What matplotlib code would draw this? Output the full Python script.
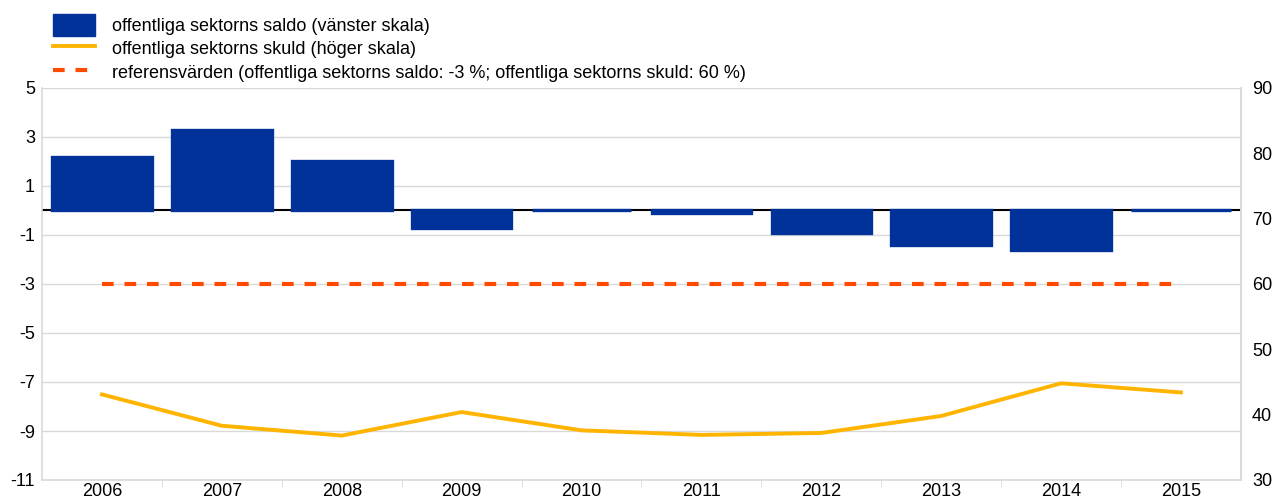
import matplotlib.pyplot as plt
from matplotlib.patches import Patch
from matplotlib.lines import Line2D

plt.rcParams['font.family'] = ['Liberation Sans', 'DejaVu Sans']

# Data
years = ['2006', '2007', '2008', '2009', '2010', '2011', '2012', '2013', '2014', '2015']
saldo = [2.2, 3.3, 2.0, -0.7, 0.0, -0.1, -0.9, -1.4, -1.6, 0.0]      # vänster skala
skuld = [43.1, 38.3, 36.8, 40.4, 37.6, 36.9, 37.2, 39.8, 44.8, 43.4]  # höger skala
ref_saldo = -3
ref_skuld = 60
left_ticks = [-11, -9, -7, -5, -3, -1, 1, 3, 5]
right_ticks = [30, 40, 50, 60, 70, 80, 90]

labels = ['offentliga sektorns saldo (vänster skala)',
          'offentliga sektorns skuld (höger skala)',
          'referensvärden (offentliga sektorns saldo: -3 %; offentliga sektorns skuld: 60 %)']

blue = '#003299'
yellow = '#FFB400'
red = '#FF4B00'
grid_col = '#D9D9D9'

fig = plt.figure(figsize=(12.74, 5), dpi=100)
ax = fig.add_axes([0.033, 0.04, 0.941, 0.784])
x = list(range(len(years)))

ax.axhline(0, color='black', linewidth=1.5, zorder=2)
ax.bar(x, saldo, width=0.83, color=blue, edgecolor=blue, linewidth=2.4, zorder=3)
ax.plot([x[0], x[-1]], [ref_saldo, ref_saldo], color=red, linewidth=3,
        dashes=(2.8, 2.6), zorder=5)

ax.set_xlim(-0.5, len(years) - 0.5)
ax.set_ylim(-11, 5)
ax.set_yticks(left_ticks)
ax.set_yticklabels([str(t) for t in left_ticks])
ax.grid(axis='y', color=grid_col, linewidth=1, zorder=0)
ax.set_xticks(x)
ax.set_xticklabels(years)
ax.set_xticks([i + 0.5 for i in x[:-1]], minor=True)
ax.tick_params(axis='x', which='major', length=0, labelsize=13, pad=2)
ax.tick_params(axis='x', which='minor', length=5, color=grid_col, direction='out')
ax.tick_params(axis='y', length=0, labelsize=13, pad=5)
ax.spines['top'].set_visible(False)
for s in ['left', 'right', 'bottom']:
    ax.spines[s].set_color(grid_col)
    ax.spines[s].set_linewidth(1.2)

ax2 = ax.twinx()
ax2.plot(x, skuld, color=yellow, linewidth=2.8, zorder=5)
ax2.set_ylim(30, 90)
ax2.set_yticks(right_ticks)
ax2.tick_params(axis='y', length=0, labelsize=13, pad=8)
for s in ['top', 'left', 'bottom']:
    ax2.spines[s].set_visible(False)
ax2.spines['right'].set_color(grid_col)
ax2.spines['right'].set_linewidth(1.2)

handles = [Patch(facecolor=blue, edgecolor=blue),
           Line2D([], [], color=yellow, linewidth=2.8),
           Line2D([], [], color=red, linewidth=3, dashes=(2.8, 2.6))]
fig.legend(handles, labels, loc='upper left', bbox_to_anchor=(0.031, 1.0),
           frameon=False, fontsize=13, handlelength=2.3, handleheight=1.5,
           handletextpad=0.95, labelspacing=0.1, borderaxespad=0.35)

fig.savefig('out.png', dpi=100)
